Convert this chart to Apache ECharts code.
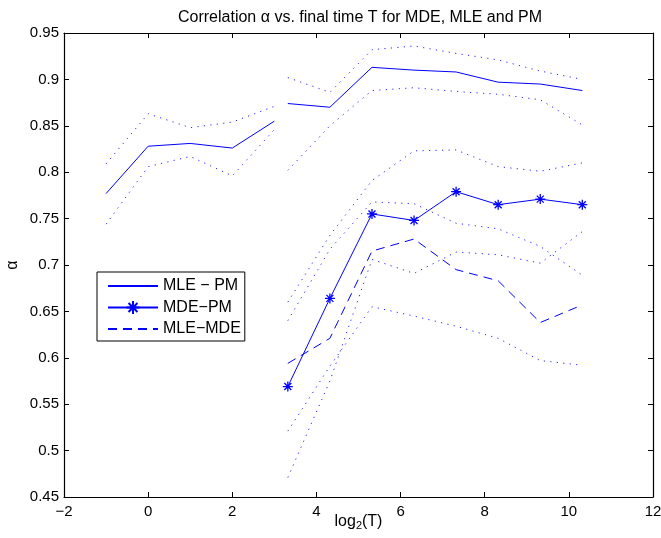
<!DOCTYPE html>
<html>
<head>
<meta charset="utf-8">
<script src="https://cdn.jsdelivr.net/npm/echarts@6/dist/echarts.min.js"></script>
<style>
    html, body {margin:0;padding:0;background:#fff;}
    #chart {width:661px;height:538px;}
</style>
</head>
<body>
<div id="chart"></div>
<script>
    // log2(T) positions
    var xShort = [-1, 0, 1, 2, 3];
    var xLong = [3.32, 4.32, 5.32, 6.32, 7.32, 8.32, 9.32, 10.32];

    // MLE - PM
    var mlePmShort   = [0.777, 0.828, 0.831, 0.826, 0.855];
    var mlePmShortHi = [0.809, 0.863, 0.848, 0.854, 0.871];
    var mlePmShortLo = [0.744, 0.806, 0.817, 0.796, 0.846];
    var mlePmLong    = [0.874, 0.870, 0.913, 0.910, 0.908, 0.897, 0.895, 0.888];
    var mlePmLongHi  = [0.902, 0.886, 0.932, 0.936, 0.928, 0.921, 0.909, 0.900];
    var mlePmLongLo  = [0.802, 0.850, 0.888, 0.891, 0.887, 0.884, 0.878, 0.851];

    // MDE - PM
    var mdePm   = [0.569, 0.664, 0.755, 0.748, 0.779, 0.765, 0.771, 0.765];
    var mdePmHi = [0.660, 0.732, 0.791, 0.823, 0.824, 0.806, 0.801, 0.810];
    var mdePmLo = [0.471, 0.575, 0.706, 0.691, 0.714, 0.711, 0.702, 0.736];

    // MLE - MDE
    var mleMde   = [0.594, 0.621, 0.715, 0.728, 0.695, 0.683, 0.638, 0.657];
    var mleMdeHi = [0.640, 0.717, 0.768, 0.766, 0.745, 0.739, 0.720, 0.689];
    var mleMdeLo = [0.521, 0.591, 0.655, 0.645, 0.634, 0.621, 0.597, 0.592];

    var legendNames = ['MLE \u2212 PM', 'MDE\u2212PM', 'MLE\u2212MDE'];

    var xTicks = {min: -2, max: 12, interval: 2};
    var yTicks = {min: 0.45, max: 0.95, interval: 0.05};

    var BLUE = '#0000ff';
    var FONT = 'Liberation Sans';
    var STAR = 'path://M0,-5L0,5M-5,0L5,0M-3.5,-3.5L3.5,3.5M-3.5,3.5L3.5,-3.5';
    var CLEAR = 'rgba(0,0,0,0)';

    function pts(xs, ys) {
        return xs.map(function (x, i) { return [x, ys[i]]; });
    }

    function dotted(xs, ys) {
        return {
            type: 'line', name: 'ci', data: pts(xs, ys),
            symbol: 'none', silent: true, z: 1,
            lineStyle: {color: BLUE, width: 1, type: [1.2, 5.3], opacity: 0.85}
        };
    }

    function makeAxis(pos, t, show) {
        return {
            type: 'value', position: pos, min: t.min, max: t.max, interval: t.interval,
            axisLine: {show: true, onZero: false, lineStyle: {color: '#000', width: 1.2}},
            axisTick: {show: true, inside: true, length: 5, lineStyle: {color: '#000', width: 1}},
            splitLine: {show: false},
            axisLabel: {show: show}
        };
    }

    var xBottom = makeAxis('bottom', xTicks, true);
    xBottom.axisLabel = {
        show: true, color: '#000', fontFamily: FONT, fontSize: 15, margin: 7,
        formatter: function (v) { return v < 0 ? '\u2212' + Math.abs(v) : String(v); }
    };
    xBottom.name = '{a|log}{s|2}{a|(T)}';
    xBottom.nameLocation = 'middle';
    xBottom.nameGap = 15;
    xBottom.nameMoveOverlap = false;
    xBottom.nameTextStyle = {
        rich: {
            a: {fontFamily: FONT, fontSize: 16, color: '#000', lineHeight: 20},
            s: {fontFamily: FONT, fontSize: 11, color: '#000', padding: [8, 0, 0, 0]}
        }
    };

    var yLeft = makeAxis('left', yTicks, true);
    yLeft.axisLabel = {
        show: true, color: '#000', fontFamily: FONT, fontSize: 15, margin: 5,
        formatter: function (v) { return String(parseFloat(v.toFixed(2))); }
    };
    yLeft.name = '\u03b1';
    yLeft.nameLocation = 'middle';
    yLeft.nameRotate = 90;
    yLeft.nameGap = 43;
    yLeft.nameMoveOverlap = false;
    yLeft.nameTextStyle = {fontFamily: FONT, fontSize: 16, color: '#000'};

    var option = {
        animation: false,
        backgroundColor: '#fff',
        title: {
            text: 'Correlation \u03b1 vs. final time T for MDE, MLE and PM',
            left: 355, top: 5, textAlign: 'center',
            textStyle: {fontFamily: FONT, fontSize: 16, fontWeight: 'normal', color: '#000'}
        },
        grid: {left: 64, right: 8, top: 33, bottom: 41, outerBoundsMode: 'none', containLabel: false},
        xAxis: [xBottom, makeAxis('top', xTicks, false)],
        yAxis: [yLeft, makeAxis('right', yTicks, false)],
        legend: {
            data: [
                {name: legendNames[0], itemStyle: {color: CLEAR, borderColor: CLEAR, borderWidth: 0}},
                {name: legendNames[1]},
                {name: legendNames[2], itemStyle: {color: CLEAR, borderColor: CLEAR, borderWidth: 0}}
            ],
            orient: 'vertical', left: 97, top: 272,
            padding: [6, 4, 4, 10],
            itemWidth: 50, itemHeight: 16, itemGap: 5.5,
            borderColor: '#000', borderWidth: 1, backgroundColor: '#fff',
            textStyle: {fontFamily: FONT, fontSize: 16, lineHeight: 16, color: '#000'}
        },
        series: [
            {
                type: 'line', name: legendNames[0], data: pts(xShort, mlePmShort),
                symbol: 'none', z: 3, lineStyle: {color: BLUE, width: 1}, itemStyle: {color: BLUE}
            },
            {
                type: 'line', name: legendNames[0], data: pts(xLong, mlePmLong),
                symbol: 'none', z: 3, lineStyle: {color: BLUE, width: 1}, itemStyle: {color: BLUE}
            },
            {
                type: 'line', name: legendNames[1], data: pts(xLong, mdePm),
                symbol: STAR, symbolSize: 10, showSymbol: true, z: 3,
                lineStyle: {color: BLUE, width: 1},
                itemStyle: {color: CLEAR, borderColor: BLUE, borderWidth: 1.3}
            },
            {
                type: 'line', name: legendNames[2], data: pts(xLong, mleMde),
                symbol: 'none', z: 3, lineStyle: {color: BLUE, width: 1, type: [9, 6]}, itemStyle: {color: BLUE}
            },
            dotted(xShort, mlePmShortHi),
            dotted(xShort, mlePmShortLo),
            dotted(xLong, mlePmLongHi),
            dotted(xLong, mlePmLongLo),
            dotted(xLong, mdePmHi),
            dotted(xLong, mdePmLo),
            dotted(xLong, mleMdeHi),
            dotted(xLong, mleMdeLo)
        ]
    };

    var chart = echarts.init(document.getElementById('chart'));
    chart.setOption(option);
</script>
</body>
</html>
